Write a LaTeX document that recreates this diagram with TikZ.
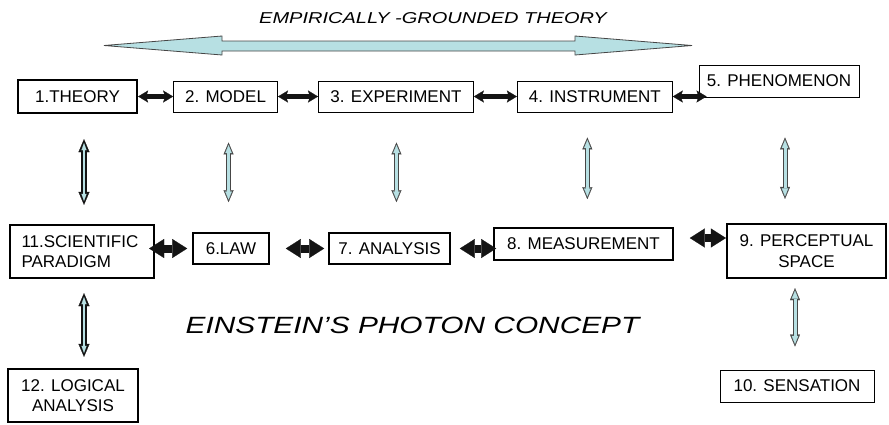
\documentclass[tikz,border=0pt]{standalone}
\usepackage{fontspec}
\setmainfont{Liberation Sans}
\newfontfamily\widefont[FakeStretch=1.27]{Liberation Sans}
\usepackage{tikz}
\usetikzlibrary{arrows.meta,positioning,calc}
\definecolor{photonCyan}{RGB}{183,224,227}
\definecolor{photonDark}{RGB}{20,20,20}
\definecolor{photonGray}{RGB}{70,70,70}

\begin{document}
\begin{tikzpicture}[x=1pt, y=-1pt,
  box/.style={draw, line width=0.9pt, inner sep=0pt, align=center,
              font=\fontsize{17}{20.5}\selectfont},
  arr/.style={{Stealth[length=10pt,width=12pt,inset=2pt,line width=0.2pt]}-{Stealth[length=10pt,width=12pt,inset=2pt,line width=0.2pt]},
              line width=4.2pt, photonDark},
  fat/.style={{Triangle[length=15pt,width=19pt,line width=0.2pt]}-{Triangle[length=15pt,width=19pt,line width=0.2pt]},
              line width=8pt, photonDark},
  vthin/.style={{Triangle[length=12pt,width=10pt,line width=0.2pt]}-{Triangle[length=12pt,width=10pt,line width=0.2pt]},
                line width=5pt, photonGray,
                postaction={draw=photonCyan, line width=3pt, shorten <=2.6pt, shorten >=2.6pt,
                  {Triangle[length=8pt,width=6.5pt,line width=0.2pt]}-{Triangle[length=8pt,width=6.5pt,line width=0.2pt]}}},
  vdark/.style={{Triangle[length=13pt,width=11pt,line width=0.2pt]}-{Triangle[length=13pt,width=11pt,line width=0.2pt]},
                line width=5.5pt, photonDark,
                postaction={draw=photonCyan, line width=2pt, shorten <=4pt, shorten >=4pt,
                  {Triangle[length=7pt,width=5pt,line width=0.2pt]}-{Triangle[length=7pt,width=5pt,line width=0.2pt]}}},
  banner/.style={font=\widefont\itshape\fontsize{15.75}{18}\selectfont, anchor=base, inner sep=0pt}
]
  \useasboundingbox (0,0) rectangle (889,424);

  % heading and the wide two-way arrow
  \node[banner] (heading) at (433,23) {EMPIRICALLY -GROUNDED THEORY};
  \draw[fill=photonCyan, draw=photonGray, line width=0.8pt]
    (104,45.5) -- (222,36) -- (222,41) -- (575,41) -- (575,36) -- (692,45.5)
    -- (575,55) -- (575,51) -- (222,51) -- (222,55) -- cycle;

  % upper row
  \node[box, line width=2.2pt, minimum width=119pt, minimum height=33pt] (theory) at (77.5,96.5) {1.THEORY};
  \node[box, minimum width=104pt, minimum height=31pt, right=35pt of theory] (model) {2. MODEL};
  \node[box, minimum width=155pt, minimum height=31pt, right=40pt of model]  (expt)  {3. EXPERIMENT};
  \node[box, minimum width=155pt, minimum height=31pt, right=43pt of expt]   (inst)  {4. INSTRUMENT};
  \node[box, minimum width=160pt, minimum height=32pt] (phen) at (779,81) {5. PHENOMENON};

  % lower row
  \node[box, line width=2.2pt, minimum width=144pt, minimum height=53pt, text width=121pt,
        inner xsep=11.5pt, align=left] (paradigm) at (82,251.5) {11.SCIENTIFIC\\PARADIGM};
  \node[box, line width=1.6pt, minimum width=76pt, minimum height=31pt]  (law)      at (231,248.5) {6.LAW};
  \node[box, line width=1.6pt, minimum width=121pt, minimum height=31pt] (analysis) at (389.5,248.5) {7. ANALYSIS};
  \node[box, line width=1.6pt, minimum width=179pt, minimum height=32pt] (meas)     at (583.5,244) {8. MEASUREMENT};
  \node[box, line width=2.2pt, minimum width=159pt, minimum height=54pt] (percept)  at (806.5,251) {9. PERCEPTUAL\\SPACE};

  % bottom
  \node[box, line width=2.2pt, minimum width=130pt, minimum height=53pt] (logic) at (73,395.5) {12. LOGICAL\\ANALYSIS};
  \node[box, minimum width=154pt, minimum height=32pt] (sens) at (797,386) {10. SENSATION};
  \node[banner, font=\widefont\itshape\fontsize{23.5}{28}\selectfont] (concept) at (412.5,333) {EINSTEIN’S PHOTON CONCEPT};

  % links along the rows
  \draw[arr] (theory) -- (model);
  \draw[arr] (model)  -- (expt);
  \draw[arr] (expt)   -- (inst);
  \draw[arr] (inst.east) -- ($(inst.east -| phen.west)+(8,0)$);

  \draw[fat] ($(paradigm.east |- law.west)+(-6,0)$) -- ($(law.west)+(-5,0)$);
  \draw[fat] ($(law.east)+(16,0)$) -- ($(analysis.west)+(-4,0)$);
  \draw[fat] ($(analysis.east)+(9,0)$) -- ($(analysis.east -| meas.west)+(3,0)$);
  \draw[fat] ($(meas.east)+(16,-6)$) -- ($(meas.east -| percept.west)+(0,-6)$);

  % links between the rows
  \draw[vdark] ($(theory.south)+(6.5,25)$) -- ($(theory.south |- paradigm.north)+(6.5,-19)$);
  \draw[vthin] ($(model.south)+(3,30)$)    -- ($(model.south |- law.north)+(3,-30)$);
  \draw[vthin] ($(expt.south)+(0.5,30)$)   -- ($(expt.south |- analysis.north)+(0.5,-30)$);
  \draw[vthin] ($(inst.south)+(-7.5,25)$)  -- ($(inst.south |- meas.north)+(-7.5,-28)$);
  \draw[vthin] ($(phen.south)+(6,40)$)     -- ($(phen.south |- percept.north)+(6,-24)$);
  \draw[vdark] ($(paradigm.south)+(2,14)$) -- ($(paradigm.south |- logic.north)+(2,-11)$);
  \draw[vthin] ($(percept.south)+(-11.5,9)$) -- ($(percept.south |- sens.north)+(-11.5,-23)$);
\end{tikzpicture}
\end{document}
